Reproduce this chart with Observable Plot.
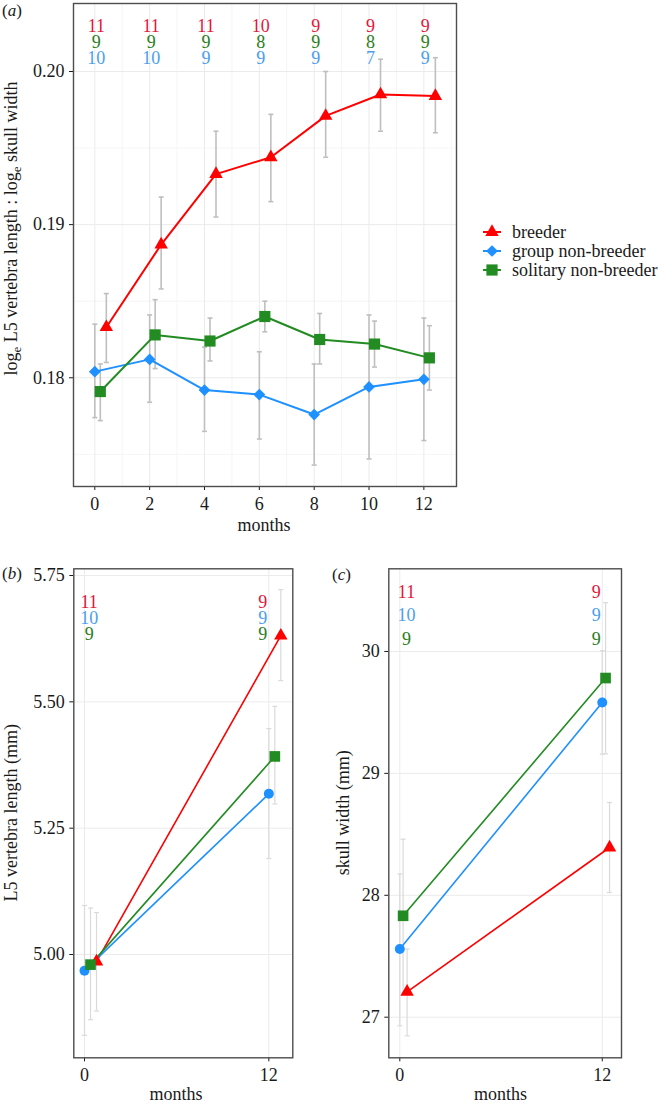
<!DOCTYPE html>
<html><head><meta charset="utf-8">
<script src="https://cdn.jsdelivr.net/npm/d3@7"></script>
<script src="https://cdn.jsdelivr.net/npm/@observablehq/plot@0.6"></script>
<style>
html,body{margin:0;padding:0;background:#fff;}
#wrap{position:relative;width:662px;height:1105px;overflow:hidden;background:#fff;}
#wrap svg{position:absolute;}
</style></head><body><div id="wrap"></div>
<script>
// ---------- data ----------
const groups = ["breeder", "group non-breeder", "solitary non-breeder"];

// panel (a): loge L5 vertebra length : loge skull width
const monthsA = [0, 2, 4, 6, 8, 10, 12];
const breederA     = [0.1833, 0.1887, 0.1933, 0.1944, 0.1971, 0.1985, 0.1984];
const breederA_hi  = [0.1855, 0.1918, 0.1961, 0.1972, 0.2000, 0.2008, 0.2009];
const breederA_lo  = [0.1810, 0.1858, 0.1905, 0.1915, 0.1944, 0.1961, 0.1960];
const groupA       = [0.1804, 0.1812, 0.1792, 0.1789, 0.1776, 0.1794, 0.1799];
const groupA_hi    = [0.1835, 0.1841, 0.1820, 0.1817, 0.1809, 0.1841, 0.1839];
const groupA_lo    = [0.1774, 0.1784, 0.1765, 0.1760, 0.1743, 0.1747, 0.1759];
const solitaryA    = [0.1791, 0.1828, 0.1824, 0.1840, 0.1825, 0.1822, 0.1813];
const solitaryA_hi = [0.1809, 0.1851, 0.1839, 0.1850, 0.1842, 0.1837, 0.1834];
const solitaryA_lo = [0.1772, 0.1806, 0.1811, 0.1830, 0.1809, 0.1807, 0.1792];
const nBreederA  = [11, 11, 11, 10, 9, 9, 9];
const nSolitaryA = [9, 9, 9, 8, 9, 8, 9];
const nGroupA    = [10, 10, 9, 9, 9, 7, 9];
const xTicksA = [0, 2, 4, 6, 8, 10, 12];
const xMinorA = [1, 3, 5, 7, 9, 11, 13];
const yTicksA = [0.18, 0.19, 0.20];
const yMinorA = [0.175, 0.185, 0.195];

// panel (b): L5 vertebra length (mm)
const monthsB = [0, 12];
const breederB     = [4.986, 5.631];
const breederB_hi  = [5.083, 5.722];
const breederB_lo  = [4.888, 5.542];
const groupB       = [4.968, 5.318];
const groupB_hi    = [5.097, 5.447];
const groupB_lo    = [4.840, 5.190];
const solitaryB    = [4.980, 5.392];
const solitaryB_hi = [5.092, 5.491];
const solitaryB_lo = [4.871, 5.298];
const nBreederB  = [11, 9];
const nGroupB    = [10, 9];
const nSolitaryB = [9, 9];
const yTicksB = [5.00, 5.25, 5.50, 5.75];

// panel (c): skull width (mm)
const monthsC = [0, 12];
const breederC     = [27.208, 28.392];
const breederC_hi  = [27.559, 28.761];
const breederC_lo  = [26.847, 28.023];
const groupC       = [27.559, 29.582];
const groupC_hi    = [28.174, 30.006];
const groupC_lo    = [26.930, 29.158];
const solitaryC    = [27.832, 29.782];
const solitaryC_hi = [28.460, 30.400];
const solitaryC_lo = [27.200, 29.160];
const nBreederC  = [11, 9];
const nGroupC    = [10, 9];
const nSolitaryC = [9, 9];
const yTicksC = [27, 28, 29, 30];
const xTicksBC = [0, 12];

// ---------- styling ----------
const FONT = "'Liberation Serif', 'DejaVu Serif', serif";
const lineColor = {"breeder": "#ff0000", "group non-breeder": "#1e90ff", "solitary non-breeder": "#228b22"};
const textColor = {"breeder": "#e2173b", "group non-breeder": "#4a9ef0", "solitary non-breeder": "#2a7d1c"};
const cap = {draw(ctx) { ctx.moveTo(-2.5, 0); ctx.lineTo(2.5, 0); }};

function rows(months, mean, lo, hi, n) {
  return months.map((m, i) => ({month: m, mean: mean[i], lo: lo[i], hi: hi[i], n: n[i]}));
}

function drawPanel(cfg) {
  const marks = [];
  if (cfg.xMinor) marks.push(Plot.ruleX(cfg.xMinor, {stroke: "#f3f3f3", strokeWidth: 0.8}));
  if (cfg.yMinor) marks.push(Plot.ruleY(cfg.yMinor, {stroke: "#f3f3f3", strokeWidth: 0.8}));
  marks.push(Plot.ruleX(cfg.xTicks, {stroke: "#ebebeb", strokeWidth: 1}));
  marks.push(Plot.ruleY(cfg.yTicks, {stroke: "#ebebeb", strokeWidth: 1}));
  for (const g of groups) {
    const d = cfg.series[g];
    marks.push(Plot.ruleX(d, {x: "month", y1: "lo", y2: "hi", dx: cfg.dodge[g], stroke: cfg.errColor, strokeWidth: cfg.errWidth}));
    marks.push(Plot.dot(d, {x: "month", y: "hi", dx: cfg.dodge[g], symbol: cap, fill: "none", stroke: cfg.errColor, strokeWidth: cfg.errWidth}));
    marks.push(Plot.dot(d, {x: "month", y: "lo", dx: cfg.dodge[g], symbol: cap, fill: "none", stroke: cfg.errColor, strokeWidth: cfg.errWidth}));
  }
  for (const g of groups) {
    marks.push(Plot.line(cfg.series[g], {x: "month", y: "mean", dx: cfg.dodge[g], stroke: lineColor[g], strokeWidth: cfg.lineWidth}));
  }
  for (const g of groups) {
    marks.push(Plot.dot(cfg.series[g], {x: "month", y: "mean", dx: cfg.dodge[g], symbol: cfg.symbol[g], r: cfg.r[g], fill: lineColor[g], stroke: "none"}));
  }
  cfg.labelOrder.forEach((g, row) => {
    cfg.series[g].forEach((d, i) => {
      marks.push(Plot.text([d], {x: "month", text: e => String(e.n), frameAnchor: "top", lineAnchor: "middle", dy: cfg.labelDy[row], dx: cfg.labelDx[i], fill: textColor[g], fontSize: 18}));
    });
  });
  marks.push(Plot.frame({stroke: "#4d4d4d", strokeWidth: 1.4}));
  const svg = Plot.plot({
    width: cfg.width, height: cfg.height,
    marginLeft: cfg.ml, marginRight: cfg.mr, marginTop: cfg.mt, marginBottom: cfg.mb,
    style: {fontFamily: FONT, fontSize: "18px", color: "#1a1a1a", background: "transparent", overflow: "visible"},
    x: {domain: cfg.xDomain, ticks: cfg.xTicks, tickSize: 4, tickPadding: cfg.xPad, label: null, tickFormat: d => String(d)},
    y: {domain: cfg.yDomain, ticks: cfg.yTicks, tickSize: 4, tickPadding: 5, label: null, tickFormat: cfg.yFormat},
    marks
  });
  svg.style.left = cfg.left + "px";
  svg.style.top = cfg.top + "px";
  document.getElementById("wrap").appendChild(svg);
  return d3.select(svg);
}

function tag(sel, x, y, letter) {
  sel.append("text").attr("x", x).attr("y", y).attr("text-anchor", "start")
    .style("font-family", FONT).style("font-size", "17px").attr("fill", "#1a1a1a")
    .call(t => { t.append("tspan").text("("); t.append("tspan").attr("font-style", "italic").text(letter); t.append("tspan").text(")"); });
}
function title(sel, x, y, txt) {
  sel.append("text").attr("x", x).attr("y", y).attr("text-anchor", "middle")
    .style("font-family", FONT).style("font-size", "18px").attr("fill", "#1a1a1a").text(txt);
}

// ---------- panel (a) ----------
const seriesA = {
  "breeder": rows(monthsA, breederA, breederA_lo, breederA_hi, nBreederA),
  "group non-breeder": rows(monthsA, groupA, groupA_lo, groupA_hi, nGroupA),
  "solitary non-breeder": rows(monthsA, solitaryA, solitaryA_lo, solitaryA_hi, nSolitaryA)
};
const a = drawPanel({
  left: 0, top: 0, width: 462, height: 545, ml: 73, mr: 6, mt: 3, mb: 59,
  xDomain: [-0.777, 13.19], yDomain: [0.1729, 0.20444],
  xTicks: xTicksA, xMinor: xMinorA, yTicks: yTicksA, yMinor: yMinorA, yFormat: d3.format(".2f"), xPad: 7,
  series: seriesA,
  dodge: {"breeder": 11.5, "group non-breeder": 0, "solitary non-breeder": 5.5},
  symbol: {"breeder": "triangle", "group non-breeder": "diamond2", "solitary non-breeder": "square"},
  r: {"breeder": 5.0, "group non-breeder": 5.3, "solitary non-breeder": 6.3},
  errColor: "#bfbfbf", errWidth: 1.6, lineWidth: 2,
  labelOrder: ["breeder", "solitary non-breeder", "group non-breeder"],
  labelDy: [22.7, 38.7, 54.7], labelDx: [1.5, 1.5, 1.5, 1.5, 1.5, 1.5, 1.5]
});
tag(a, 2, 16, "a");
title(a, 264, 531, "months");
a.append("text").attr("transform", "translate(17,228.5) rotate(-90)").attr("text-anchor", "middle")
  .style("font-family", FONT).style("font-size", "18px").attr("fill", "#1a1a1a")
  .call(t => {
    t.append("tspan").text("log");
    t.append("tspan").attr("dy", 4).style("font-size", "13px").text("e");
    t.append("tspan").attr("dy", -4).text(" L5 vertebra length : log");
    t.append("tspan").attr("dy", 4).style("font-size", "13px").text("e");
    t.append("tspan").attr("dy", -4).text(" skull width");
  });

// ---------- panel (b) ----------
const seriesB = {
  "breeder": rows(monthsB, breederB, breederB_lo, breederB_hi, nBreederB),
  "group non-breeder": rows(monthsB, groupB, groupB_lo, groupB_hi, nGroupB),
  "solitary non-breeder": rows(monthsB, solitaryB, solitaryB_lo, solitaryB_hi, nSolitaryB)
};
const b = drawPanel({
  left: 0, top: 560, width: 300, height: 545, ml: 73.3, mr: 7.7, mt: 8.3, mb: 47.7,
  xDomain: [-0.697, 13.56], yDomain: [4.7956, 5.7633],
  xTicks: xTicksBC, yTicks: yTicksB, yFormat: d3.format(".2f"), xPad: 6,
  series: seriesB,
  dodge: {"breeder": 12, "group non-breeder": 0, "solitary non-breeder": 6},
  symbol: {"breeder": "triangle", "group non-breeder": "circle", "solitary non-breeder": "square"},
  r: {"breeder": 5.0, "group non-breeder": 5.0, "solitary non-breeder": 6.0},
  errColor: "#dadada", errWidth: 1.2, lineWidth: 1.6,
  labelOrder: ["breeder", "group non-breeder", "solitary non-breeder"],
  labelDy: [33.4, 49, 65.7], labelDx: [4.7, -6]
});
tag(b, 2, 19, "b");
title(b, 176, 540, "months");
b.append("text").attr("transform", "translate(17,252.8) rotate(-90)").attr("text-anchor", "middle")
  .style("font-family", FONT).style("font-size", "18px").attr("fill", "#1a1a1a").text("L5 vertebra length (mm)");

// ---------- panel (c) ----------
const seriesC = {
  "breeder": rows(monthsC, breederC, breederC_lo, breederC_hi, nBreederC),
  "group non-breeder": rows(monthsC, groupC, groupC_lo, groupC_hi, nGroupC),
  "solitary non-breeder": rows(monthsC, solitaryC, solitaryC_lo, solitaryC_hi, nSolitaryC)
};
const c = drawPanel({
  left: 330, top: 560, width: 300, height: 545, ml: 58.3, mr: 9, mt: 8.3, mb: 47.7,
  xDomain: [-0.652, 13.14], yDomain: [26.667, 30.678],
  xTicks: xTicksBC, yTicks: yTicksC, yFormat: d3.format("d"), xPad: 6,
  series: seriesC,
  dodge: {"breeder": 7.3, "group non-breeder": 0, "solitary non-breeder": 3.3},
  symbol: {"breeder": "triangle", "group non-breeder": "circle", "solitary non-breeder": "square"},
  r: {"breeder": 5.0, "group non-breeder": 5.0, "solitary non-breeder": 6.0},
  errColor: "#dadada", errWidth: 1.2, lineWidth: 1.6,
  labelOrder: ["breeder", "group non-breeder", "solitary non-breeder"],
  labelDy: [23.4, 46.7, 70], labelDx: [6.7, -6]
});
tag(c, 2, 20, "c");
title(c, 170.5, 540, "months");
c.append("text").attr("transform", "translate(19,252.8) rotate(-90)").attr("text-anchor", "middle")
  .style("font-family", FONT).style("font-size", "18px").attr("fill", "#1a1a1a").text("skull width (mm)");

// ---------- legend ----------
const legendSymbol = {"breeder": d3.symbolTriangle, "group non-breeder": d3.symbolDiamond2, "solitary non-breeder": d3.symbolSquare};
const legendSize = {"breeder": Math.PI * 25, "group non-breeder": Math.PI * 28, "solitary non-breeder": Math.PI * 40};
const leg = d3.select("#wrap").append("svg").attr("width", 200).attr("height", 90)
  .style("left", "462px").style("top", "215px").style("overflow", "visible");
groups.forEach((g, i) => {
  const y = 17 + i * 19;
  const row = leg.append("g").attr("transform", `translate(0,${y})`);
  row.append("line").attr("x1", 21).attr("x2", 39).attr("stroke", lineColor[g]).attr("stroke-width", 2);
  row.append("path").attr("transform", "translate(30,0)").attr("d", d3.symbol(legendSymbol[g], legendSize[g])()).attr("fill", lineColor[g]);
  row.append("text").attr("x", 50).attr("dy", "0.32em").attr("text-anchor", "start").style("font-family", FONT).style("font-size", "18px").attr("fill", "#1a1a1a").text(g);
});
</script>
</body></html>
